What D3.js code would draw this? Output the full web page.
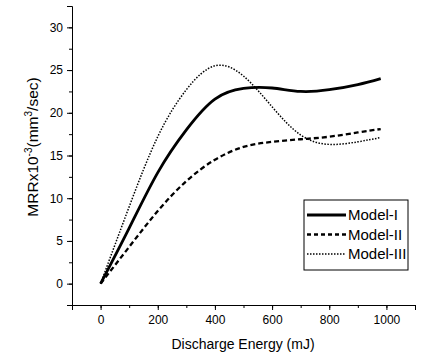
<!DOCTYPE html>
<html>
<head>
<meta charset="utf-8">
<script src="https://cdn.jsdelivr.net/npm/d3@7"></script>
<style>
  body { margin: 0; background: #fff; }
  text { font-family: Arial, "Liberation Sans", sans-serif; fill: #000; }
</style>
</head>
<body>
<div id="chart"></div>
<script>
const energy = [0, 100, 200, 300, 400, 500, 600, 700, 800, 900, 980]
const model1 = [0, 6.5, 13.0, 18.0, 21.6, 22.85, 22.9, 22.5, 22.7, 23.3, 24.0]
const model2 = [0, 4.3, 8.5, 12.0, 14.5, 16.0, 16.6, 16.9, 17.2, 17.7, 18.1]
const model3 = [0, 9.0, 17.2, 22.7, 25.5, 24.3, 20.7, 17.4, 16.3, 16.6, 17.1]
const seriesNames = ["Model-I", "Model-II", "Model-III"]
const xTicks = [0, 200, 400, 600, 800, 1000]
const yTicks = [0, 5, 10, 15, 20, 25, 30]

const W = 444, H = 362

const svg = d3.select("#chart").append("svg")
  .attr("width", W)
  .attr("height", H)

const x = d3.scaleLinear().domain([-100, 1100]).range([72, 415])
const y = d3.scaleLinear().domain([-2.5, 32.5]).range([305, 6])

// x axis, minor ticks then major
svg.append("g").attr("transform", "translate(0,305)")
  .call(d3.axisBottom(x).tickValues(d3.range(-100, 1101, 100)).tickSize(3).tickFormat(""))
  .call(g => g.select(".domain").remove())
svg.append("g").attr("transform", "translate(0,305)")
  .call(d3.axisBottom(x).tickValues(xTicks).tickSize(5).tickPadding(5).tickFormat(d3.format("d")))
  .call(g => g.selectAll("text").style("font-size", "12px"))

// y axis
svg.append("g").attr("transform", "translate(72,0)")
  .call(d3.axisLeft(y).tickValues(d3.range(-2.5, 32.6, 2.5)).tickSize(3).tickFormat(""))
  .call(g => g.select(".domain").remove())
svg.append("g").attr("transform", "translate(72,0)")
  .call(d3.axisLeft(y).tickValues(yTicks).tickSize(5).tickPadding(4))
  .call(g => g.selectAll("text").style("font-size", "12px"))

// axis titles
svg.append("text")
  .attr("x", 243).attr("y", 349)
  .attr("text-anchor", "middle")
  .style("font-size", "14px")
  .text("Discharge Energy (mJ)")

const yl = svg.append("text")
  .attr("transform", "translate(38,147) rotate(-90)")
  .attr("text-anchor", "middle")
  .style("font-size", "15.5px")
yl.append("tspan").text("MRRx10")
yl.append("tspan").attr("dy", -6).style("font-size", "10px").text("-3")
yl.append("tspan").attr("dy", 6).text("(mm")
yl.append("tspan").attr("dy", -6).style("font-size", "10px").text("3")
yl.append("tspan").attr("dy", 6).text("/sec)")

// lines
const styles = [
  { width: 2.8, dash: null, legendDash: null },
  { width: 2.3, dash: "5,3", legendDash: "4,3" },
  { width: 1.5, dash: "1.5,1.5", legendDash: "1.5,1.5" }
]
const allSeries = [model1, model2, model3]

const line = d3.line()
  .x((d, i) => x(energy[i]))
  .y(d => y(d))
  .curve(d3.curveNatural)

allSeries.forEach((s, k) => {
  svg.append("path")
    .datum(s)
    .attr("d", line)
    .attr("fill", "none")
    .attr("stroke", "#000")
    .attr("stroke-width", styles[k].width)
    .attr("stroke-dasharray", styles[k].dash)
})

// legend
const legend = svg.append("g")
legend.append("rect")
  .attr("x", 304).attr("y", 200)
  .attr("width", 104).attr("height", 70)
  .attr("fill", "#fff")
  .attr("stroke", "#000")
  .attr("stroke-width", 1)

seriesNames.forEach((name, k) => {
  const ly = 215 + k * 19.5
  legend.append("line")
    .attr("x1", 307).attr("x2", 346)
    .attr("y1", ly).attr("y2", ly)
    .attr("stroke", "#000")
    .attr("stroke-width", styles[k].width)
    .attr("stroke-dasharray", styles[k].legendDash)
  legend.append("text")
    .attr("x", 348).attr("y", ly + 5)
    .style("font-size", "15px")
    .text(name)
})
</script>
</body>
</html>
